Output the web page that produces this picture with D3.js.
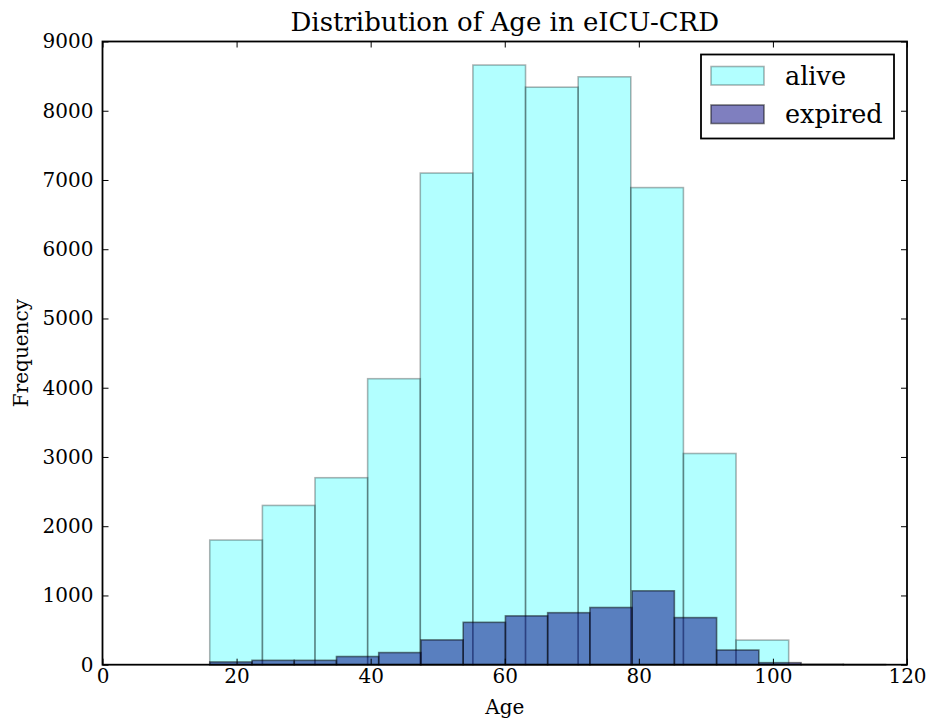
<!DOCTYPE html>
<html>
<head>
<meta charset="utf-8">
<script src="https://cdn.jsdelivr.net/npm/d3@7"></script>
<style>
  body { margin: 0; background: #fff; }
  svg { display: block; font-family: 'DejaVu Serif', serif; }
  .tick text { font-size: 20px; fill: #000; font-family: 'DejaVu Serif', serif; }
  .tick line { stroke: #000; stroke-width: 1; }
  .domain { display: none; }
</style>
</head>
<body>
<svg></svg>
<script>
const SVG_MEASURES = { width: 928, height: 724, left: 102.5, right: 907, top: 41.5, bottom: 664.7 }

// bin edges (years of age) and counts
const ALIVE_EDGES = [16, 23.85, 31.7, 39.55, 47.4, 55.25, 63.1, 70.95, 78.8, 86.65, 94.5, 102.35]
const ALIVE_COUNTS = [1800, 2300, 2700, 4130, 7100, 8660, 8340, 8490, 6890, 3050, 355]

const EXPIRED_EDGES = [16, 22.3, 28.6, 34.9, 41.2, 47.5, 53.8, 60.1, 66.4, 72.7, 79.0, 85.3, 91.6, 97.9, 104.2, 110.5, 116.8]
const EXPIRED_COUNTS = [40, 63, 63, 118, 175, 358, 612, 705, 751, 826, 1067, 680, 212, 29, 6, 2]

const X_TICKS = [0, 20, 40, 60, 80, 100, 120]
const Y_TICKS = [0, 1000, 2000, 3000, 4000, 5000, 6000, 7000, 8000, 9000]

const SERIES = [
  { name: 'alive', edges: ALIVE_EDGES, counts: ALIVE_COUNTS, fill: 'rgb(0,255,255)', opacity: 0.3 },
  { name: 'expired', edges: EXPIRED_EDGES, counts: EXPIRED_COUNTS, fill: 'rgb(0,0,128)', opacity: 0.5 }
]

const canvas = d3.select('svg')
  .attr('width', SVG_MEASURES.width)
  .attr('height', SVG_MEASURES.height)

const xScale = d3.scaleLinear().domain([0, 120]).range([SVG_MEASURES.left, SVG_MEASURES.right])
const yScale = d3.scaleLinear().domain([0, 9000]).range([SVG_MEASURES.bottom, SVG_MEASURES.top])

// bars
SERIES.forEach(s => {
  const bins = s.counts.map((c, i) => ({ x0: s.edges[i], x1: s.edges[i + 1], count: c }))
  canvas.append('g')
    .attr('class', 'series-' + s.name)
    .selectAll('rect')
    .data(bins)
    .enter()
    .append('rect')
    .attr('x', d => xScale(d.x0))
    .attr('y', d => yScale(d.count))
    .attr('width', d => xScale(d.x1) - xScale(d.x0))
    .attr('height', d => yScale(0) - yScale(d.count))
    .attr('fill', s.fill)
    .attr('fill-opacity', s.opacity)
    .attr('stroke', '#000')
    .attr('stroke-opacity', s.opacity)
    .attr('stroke-width', 1.6)
})

// axes, ticks pointing inward on all four sides
const tickLen = 6
const fmt = d3.format('d')
const axes = [
  { axis: d3.axisBottom(xScale).tickValues(X_TICKS).tickPadding(4).tickFormat(fmt), at: `0, ${SVG_MEASURES.bottom}` },
  { axis: d3.axisTop(xScale).tickValues(X_TICKS).tickFormat(''), at: `0, ${SVG_MEASURES.top}` },
  { axis: d3.axisLeft(yScale).tickValues(Y_TICKS).tickPadding(9).tickFormat(fmt), at: `${SVG_MEASURES.left}, 0` },
  { axis: d3.axisRight(yScale).tickValues(Y_TICKS).tickFormat(''), at: `${SVG_MEASURES.right}, 0` }
]
axes.forEach(a => {
  canvas.append('g')
    .attr('transform', `translate(${a.at})`)
    .call(a.axis.tickSizeInner(-tickLen).tickSizeOuter(0))
    .attr('font-family', null)
    .attr('font-size', null)
})

// frame
canvas.append('rect')
  .attr('x', SVG_MEASURES.left)
  .attr('y', SVG_MEASURES.top)
  .attr('width', SVG_MEASURES.right - SVG_MEASURES.left)
  .attr('height', SVG_MEASURES.bottom - SVG_MEASURES.top)
  .attr('fill', 'none')
  .attr('stroke', '#000')
  .attr('stroke-width', 1.8)

// labels
canvas.append('text')
  .text('Distribution of Age in eICU-CRD')
  .attr('x', (SVG_MEASURES.left + SVG_MEASURES.right) / 2)
  .attr('y', 31)
  .attr('text-anchor', 'middle')
  .attr('font-size', 26)

canvas.append('text')
  .text('Age')
  .attr('x', (SVG_MEASURES.left + SVG_MEASURES.right) / 2)
  .attr('y', 714)
  .attr('text-anchor', 'middle')
  .attr('font-size', 20)

canvas.append('text')
  .text('Frequency')
  .attr('transform', `translate(28, ${(SVG_MEASURES.top + SVG_MEASURES.bottom) / 2}) rotate(-90)`)
  .attr('text-anchor', 'middle')
  .attr('font-size', 20)

// legend
const legend = canvas.append('g').attr('transform', 'translate(701, 54.5)')
legend.append('rect')
  .attr('width', 193).attr('height', 84)
  .attr('fill', '#fff').attr('stroke', '#000').attr('stroke-width', 1.8)

const legendItems = legend.selectAll('g.item')
  .data(SERIES)
  .enter()
  .append('g')
  .attr('class', 'item')
  .attr('transform', (d, i) => `translate(10, ${12 + i * 38.5})`)

legendItems.append('rect')
  .attr('width', 53).attr('height', 18.5)
  .attr('fill', d => d.fill)
  .attr('fill-opacity', d => d.opacity)
  .attr('stroke', '#000')
  .attr('stroke-opacity', d => d.opacity)
  .attr('stroke-width', 1.6)

legendItems.append('text')
  .text(d => d.name)
  .attr('x', 74)
  .attr('y', 18)
  .attr('font-size', 25.5)
</script>
</body>
</html>
